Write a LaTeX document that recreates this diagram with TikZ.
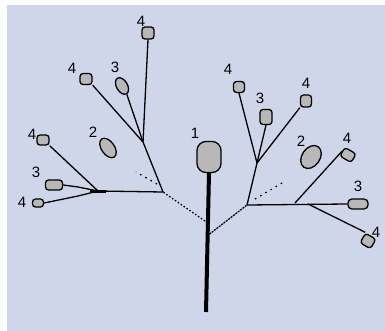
\documentclass[tikz,border=0pt]{standalone}
\usepackage{fontspec}
\setmainfont{Liberation Sans}
\usetikzlibrary{shapes.geometric}

\definecolor{bgblue}{RGB}{208,214,234}
\definecolor{leafgray}{RGB}{184,184,184}

\begin{document}
\begin{tikzpicture}[
    x=1pt, y=-1pt,
    font=\fontsize{15}{17}\selectfont,
    % Node styles
    leaf/.style={draw, fill=leafgray, line width=1.3pt, inner sep=0pt, rounded corners=3pt},
    oval/.style={draw, fill=leafgray, line width=1.3pt, inner sep=0pt, ellipse},
    num/.style={inner sep=0pt},
    twig/.style={line width=1.3pt},
    stem/.style={line width=4pt},
    gap/.style={line width=1.3pt, dash pattern=on 1.5pt off 2pt},
    hint/.style={line width=1.3pt, dash pattern=on 1.5pt off 4.5pt},
]
    \useasboundingbox (0,0) rectangle (385,331);
    \fill[bgblue] (7,5) rectangle (385,331);

    % Define nodes here
    \node[leaf, minimum width=24pt, minimum height=31pt, rounded corners=9pt] (top) at (209,157) {};
    \coordinate (base) at (206,312);
    \coordinate (jl) at (205,221);
    \coordinate (jr) at (207,236);

    % left side
    \coordinate (L) at (163,192);
    \coordinate (La) at (143,142);
    \coordinate (Lb) at (98,191);
    \node[leaf, minimum width=12pt, minimum height=12pt] (l4a) at (148,33) {};
    \node[oval, minimum width=11pt, minimum height=18pt, rotate=30] (l3a) at (122,86) {};
    \node[leaf, minimum width=12pt, minimum height=11pt] (l4b) at (86,79) {};
    \node[oval, minimum width=13pt, minimum height=22pt, rotate=35] (l2) at (108,148) {};
    \node[leaf, minimum width=12pt, minimum height=10pt] (l4c) at (43,140) {};
    \node[leaf, minimum width=17pt, minimum height=10pt] (l3b) at (54,185) {};
    \node[leaf, minimum width=11pt, minimum height=8pt] (l4d) at (38,203) {};

    % right side
    \coordinate (R) at (247,205);
    \coordinate (Ra) at (257,163);
    \coordinate (Rb) at (295,203);
    \coordinate (Rc) at (308,204);
    \node[leaf, minimum width=11pt, minimum height=11pt] (r4a) at (239,87) {};
    \node[leaf, minimum width=12pt, minimum height=15pt] (r3a) at (266,117) {};
    \node[leaf, minimum width=11pt, minimum height=12pt] (r4b) at (306,101) {};
    \node[oval, minimum width=18pt, minimum height=25pt, rotate=-35] (r2) at (311,157) {};
    \node[leaf, minimum width=13pt, minimum height=10pt, rotate=-30] (r4c) at (348,155) {};
    \node[leaf, minimum width=20pt, minimum height=10pt, rounded corners=4pt] (r3b) at (358,204) {};
    \node[leaf, minimum width=12pt, minimum height=11pt, rotate=-30] (r4d) at (368,241) {};

    % numbers
    \node[num] (n1) at (195,133) {1};
    \node[num] (nl4a) at (141,21) {4};
    \node[num] (nl3a) at (115,67) {3};
    \node[num] (nl4b) at (72,68) {4};
    \node[num] (nl2) at (93,132) {2};
    \node[num] (nl4c) at (32,134) {4};
    \node[num] (nl3b) at (36,172) {3};
    \node[num] (nl4d) at (22,202) {4};
    \node[num] (nr4a) at (228,69) {4};
    \node[num] (nr3a) at (260,98) {3};
    \node[num] (nr4b) at (306,83) {4};
    \node[num] (nr2) at (301,141) {2};
    \node[num] (nr4c) at (347,138) {4};
    \node[num] (nr3b) at (358,186) {3};
    \node[num] (nr4d) at (376,232) {4};

    % Draw connections
    \draw[stem] (top.south) -- (base);
    \draw[gap] (jl) -- (L);
    \draw[twig, dash pattern=on 2pt off 1pt] (jr) -- (R);

    \draw[twig] (L) -- (La);
    \draw[twig] (La) -- (l4a.south);
    \draw[twig] (La) -- (l3a.south);
    \draw[twig] (La) -- (l4b.south east);
    \draw[twig] (L) -- (Lb);
    \draw[line width=2.4pt] (90,191.5) -- (106,191.5);
    \draw[twig] (Lb) -- (l4c.south east);
    \draw[twig] (Lb) -- (78,187) -- (l3b.east);
    \draw[twig] (Lb) -- (78,196) -- (l4d.east);
    \draw[hint] (157,184) -- (136,172);

    \draw[twig] (R) -- (Ra);
    \draw[twig] (Ra) -- (r4a.south);
    \draw[twig] (Ra) -- (r3a.south);
    \draw[twig] (Ra) -- (r4b.south west);
    \draw[twig] (R) -- (r3b.west);
    \draw[twig] (Rb) -- (r4c.west);
    \draw[twig] (Rc) -- (r4d.north west);
    \draw[hint] (255,199) -- (282,183);

\end{tikzpicture}
\end{document}
